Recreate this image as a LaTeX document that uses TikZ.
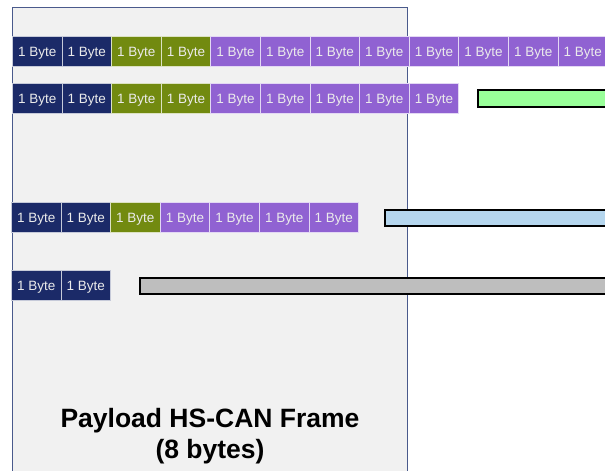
\documentclass[tikz,border=0pt]{standalone}
\usepackage{fontspec}
\setmainfont{Liberation Sans}
\definecolor{navy}{HTML}{1B2A68}
\definecolor{olive}{HTML}{728A10}
\definecolor{purp}{HTML}{9062D2}
\definecolor{boxfill}{HTML}{F1F1F1}
\definecolor{boxline}{HTML}{4A5A8C}
\definecolor{greenbar}{HTML}{99FF99}
\definecolor{bluebar}{HTML}{B5D6EE}
\definecolor{graybar}{HTML}{BEBEBE}
\begin{document}
\begin{tikzpicture}[x=1pt,y=-1pt,
  cell/.style={draw=white!75!#1, line width=0.8pt, fill=#1, text=white!92!black,
    minimum width=49.5pt, minimum height=30pt, inner sep=0pt, anchor=north west,
    text height=9.5pt, text depth=0pt,
    font=\fontsize{13.5}{15}\selectfont},
  bar/.style={draw=black, line width=1.6pt, fill=#1, anchor=north west, inner sep=0pt},
  title/.style={font=\fontsize{26.5}{31}\selectfont\bfseries, align=center, text=black}]
\useasboundingbox (0,0) rectangle (605,471);
\fill[boxfill] (12,7) rectangle (407,480);
\draw[boxline, line width=1pt] (12,480) -- (12,7) -- (407,7) -- (407,480);
% row 1
\foreach \c [count=\i from 0] in {navy,navy,olive,olive,purp,purp,purp,purp,purp,purp,purp,purp}
  \node[cell=\c] (ra\i) at ({12+49.6*\i},36) {1 Byte};
% row 2
\foreach \c [count=\i from 0] in {navy,navy,olive,olive,purp,purp,purp,purp,purp}
  \node[cell=\c] (rb\i) at ({12+49.6*\i},83) {1 Byte};
\node[bar=greenbar, minimum width=140pt, minimum height=17pt] (gb) at (477,89) {};
% row 3
\foreach \c [count=\i from 0] in {navy,navy,olive,purp,purp,purp,purp}
  \node[cell=\c] (rc\i) at ({11+49.6*\i},202) {1 Byte};
\node[bar=bluebar, minimum width=240pt, minimum height=16pt] (bb) at (384,209) {};
% row 4
\foreach \c [count=\i from 0] in {navy,navy}
  \node[cell=\c] (rd\i) at ({11+49.6*\i},270) {1 Byte};
\node[bar=graybar, minimum width=490pt, minimum height=16pt] (sb) at (139,277) {};
% title
\node[title] (tt) at (210,436) {Payload HS-CAN Frame\\(8 bytes)};
\end{tikzpicture}
\end{document}
